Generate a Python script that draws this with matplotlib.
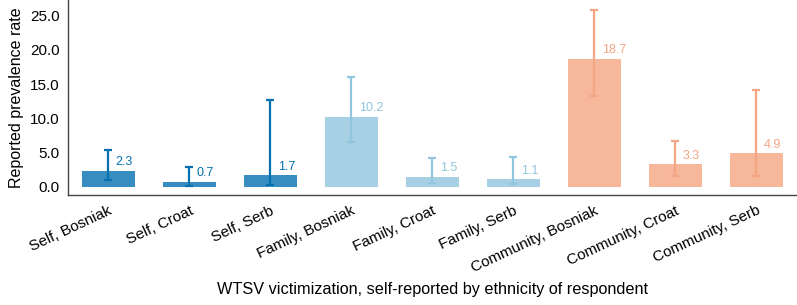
import matplotlib
matplotlib.use("Agg")
import matplotlib.pyplot as plt
import numpy as np

plt.rcParams['font.family'] = ['Liberation Sans', 'DejaVu Sans']

categories = ['Self, Bosniak', 'Self, Croat', 'Self, Serb',
              'Family, Bosniak', 'Family, Croat', 'Family, Serb',
              'Community, Bosniak', 'Community, Croat', 'Community, Serb']
rates = [2.3, 0.7, 1.7, 10.2, 1.5, 1.1, 18.7, 3.3, 4.9]
ci_low = [1.0, 0.15, 0.3, 6.6, 0.6, 0.4, 13.3, 1.6, 1.6]
ci_high = [5.4, 2.9, 12.7, 16.0, 4.2, 4.4, 25.9, 6.7, 14.2]
group_colors = ['#0571b0'] * 3 + ['#92c5de'] * 3 + ['#f4a582'] * 3

fig, ax = plt.subplots(figsize=(7.97, 3.05), dpi=100)
fig.subplots_adjust(left=0.085, right=1.0, top=1.0, bottom=0.36)

x = np.arange(len(categories))
ax.bar(x, rates, width=0.65, color=group_colors, alpha=0.8, zorder=1)

for i in range(len(categories)):
    err = [[rates[i] - ci_low[i]], [ci_high[i] - rates[i]]]
    ax.errorbar(x[i], rates[i], yerr=err, fmt='none', ecolor=group_colors[i],
                elinewidth=1.6, capsize=2.8, capthick=1.6, zorder=2)
    ax.text(x[i] + 0.09, rates[i] + 0.4, f'{rates[i]:.1f}', color=group_colors[i],
            ha='left', va='bottom', fontsize=9)

ax.set_xlim(-0.5, 8.5)
ax.set_ylim(-1.2, 27.3)
ax.set_yticks([0, 5, 10, 15, 20, 25])
ax.set_yticklabels([f'{v:.1f}' for v in [0, 5, 10, 15, 20, 25]])
ax.set_xticks(x)
ax.set_xticklabels(categories, rotation=25, ha='right', rotation_mode='anchor')
ax.tick_params(axis='both', length=0, labelsize=11, pad=6)

ax.set_ylabel('Reported prevalence rate', fontsize=11.5)
ax.set_xlabel('WTSV victimization, self-reported by ethnicity of respondent', fontsize=11.7, labelpad=5)

for side in ['top', 'right']:
    ax.spines[side].set_visible(False)
for side in ['left', 'bottom']:
    ax.spines[side].set_color('#444444')
    ax.spines[side].set_linewidth(1.0)

plt.savefig('out.png', dpi=100)
